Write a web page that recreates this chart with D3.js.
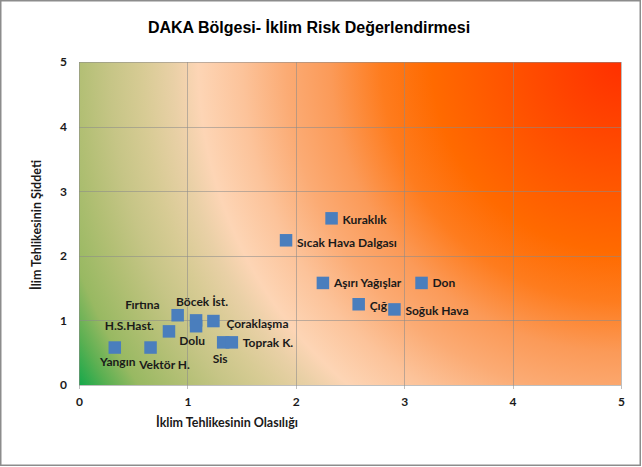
<!DOCTYPE html>
<html>
<head>
<meta charset="utf-8">
<script src="https://cdn.jsdelivr.net/npm/d3@7"></script>
<style>
html,body{margin:0;padding:0;background:#fff;}
svg{display:block;}
</style>
</head>
<body>
<svg id="chart" width="642" height="467"></svg>
<script>
// ---- data ----
const categories = ["Yangın","Vektör H.","H.S.Hast.","Fırtına","Böcek İst.","Dolu","Çoraklaşma","Sis","Toprak K.","Kuraklık","Sıcak Hava Dalgası","Aşırı Yağışlar","Don","Çığ","Soğuk Hava"];
const probability = [0.33,0.66,0.83,0.91,1.08,1.08,1.24,1.33,1.41,2.33,1.91,2.25,3.16,2.58,2.91];
const severity    = [0.58,0.58,0.83,1.08,1.00,0.91,0.99,0.66,0.66,2.58,2.24,1.58,1.58,1.25,1.17];
const tickValues = [0,1,2,3,4,5];
const title = "DAKA Bölgesi- İklim Risk Değerlendirmesi";
const xTitle = "İklim Tehlikesinin Olasılığı";
const yTitle = "İlim Tehlikesinin Şiddeti";

// ---- layout (label offsets in px, anchor) ----
const labelLayout = [
  [3,14,"middle"],[14,17,"middle"],[-15,-6,"end"],[-18,-11,"end"],[6,-19,"middle"],
  [-4,14,"middle"],[13,2,"start"],[-3,16,"middle"],[11,0,"start"],[11,1,"start"],
  [11,2,"start"],[11,0,"start"],[11,0,"start"],[11,1,"start"],[11,1,"start"]
];

const svg = d3.select("#chart");
const W = 642, H = 467;
const plot = {left:79, right:621, top:62, bottom:385};

const x = d3.scaleLinear().domain([0,5]).range([plot.left, plot.right]);
const y = d3.scaleLinear().domain([0,5]).range([plot.bottom, plot.top]);

// outer border
svg.append("rect").attr("x",0.75).attr("y",0.75).attr("width",W-2.5).attr("height",H-2.5)
  .attr("fill","#fff").attr("stroke","#8c8c8c").attr("stroke-width",1.5);

// background gradient (from top-right corner)
const defs = svg.append("defs");
const cx = x(5), cy = y(5);
const r = Math.hypot(x(5)-x(0), y(0)-y(5));
const grad = defs.append("radialGradient").attr("id","bg")
  .attr("gradientUnits","userSpaceOnUse")
  .attr("cx",cx).attr("cy",cy).attr("fx",cx).attr("fy",cy).attr("r",r);
const stops = [
  [0,"#ff3000"],[0.10,"#ff4300"],[0.19,"#ff5500"],[0.30,"#ff6a00"],[0.38,"#fe7c1e"],
  [0.46,"#fb9a58"],[0.53,"#fbab74"],[0.60,"#fcc39a"],[0.67,"#fdd5b5"],[0.71,"#e9d0a6"],
  [0.76,"#d7cb94"],[0.81,"#c6c586"],[0.86,"#b2bf74"],[0.92,"#98b962"],[0.96,"#5cb052"],[1,"#14a84a"]
];
grad.selectAll("stop").data(stops).join("stop")
  .attr("offset",d=>d[0]).attr("stop-color",d=>d[1]);

svg.append("rect").attr("x",plot.left).attr("y",plot.top)
  .attr("width",plot.right-plot.left).attr("height",plot.bottom-plot.top)
  .attr("fill","url(#bg)");

// gridlines
const grid = svg.append("g").attr("stroke","#8a8a8a").attr("stroke-opacity",0.55).attr("stroke-width",1);
grid.selectAll("line.h").data(tickValues).join("line").attr("class","h")
  .attr("x1",plot.left).attr("x2",plot.right)
  .attr("y1",d=>Math.round(y(d))+0.5).attr("y2",d=>Math.round(y(d))+0.5);
grid.selectAll("line.v").data(tickValues).join("line").attr("class","v")
  .attr("y1",plot.top).attr("y2",plot.bottom+4)
  .attr("x1",d=>Math.round(x(d))+0.5).attr("x2",d=>Math.round(x(d))+0.5);

// axes (labels only)
const xAxis = svg.append("g").attr("transform",`translate(0,${plot.bottom})`)
  .call(d3.axisBottom(x).tickValues(tickValues).tickFormat(d3.format("d")).tickSize(0).tickPadding(12));
const yAxis = svg.append("g").attr("transform",`translate(${plot.left},0)`)
  .call(d3.axisLeft(y).tickValues(tickValues).tickFormat(d3.format("d")).tickSize(0).tickPadding(12));
[xAxis,yAxis].forEach(a=>{
  a.select(".domain").remove();
  a.selectAll("text").attr("font-family","Lato, 'Open Sans', sans-serif")
    .attr("font-weight","bold").attr("font-size",12).attr("fill","#1a1a1a");
});

// markers
const pts = categories.map((c,i)=>({c, px:probability[i], sv:severity[i], lay:labelLayout[i]}));
const size = 12.5;
svg.append("g").selectAll("rect").data(pts).join("rect")
  .attr("x",d=>x(d.px)-size/2).attr("y",d=>y(d.sv)-size/2)
  .attr("width",size).attr("height",size)
  .attr("fill","#4a7ebd");

// labels
svg.append("g").selectAll("text").data(pts).join("text")
  .attr("x",d=>x(d.px)+d.lay[0]).attr("y",d=>y(d.sv)+d.lay[1])
  .attr("text-anchor",d=>d.lay[2]).attr("dominant-baseline","central")
  .attr("font-family","Lato, 'Open Sans', sans-serif").attr("font-weight","bold")
  .attr("font-size",12).attr("fill","#1a1a1a")
  .text(d=>d.c);

// titles
svg.append("text").attr("x",309).attr("y",27).attr("text-anchor","middle")
  .attr("dominant-baseline","central")
  .attr("font-family","'Liberation Sans', Arial, sans-serif").attr("font-weight","bold")
  .attr("font-size",16).attr("fill","#000").text(title);

svg.append("text").attr("x",227).attr("y",422).attr("text-anchor","middle")
  .attr("dominant-baseline","central")
  .attr("font-family","Lato, 'Open Sans', sans-serif").attr("font-weight","bold")
  .attr("font-size",12.5).attr("fill","#1a1a1a").text(xTitle);

svg.append("text").attr("transform","translate(36,225) rotate(-90)").attr("text-anchor","middle")
  .attr("dominant-baseline","central")
  .attr("font-family","Lato, 'Open Sans', sans-serif").attr("font-weight","bold")
  .attr("font-size",12.5).attr("fill","#1a1a1a").text(yTitle);
</script>
</body>
</html>
